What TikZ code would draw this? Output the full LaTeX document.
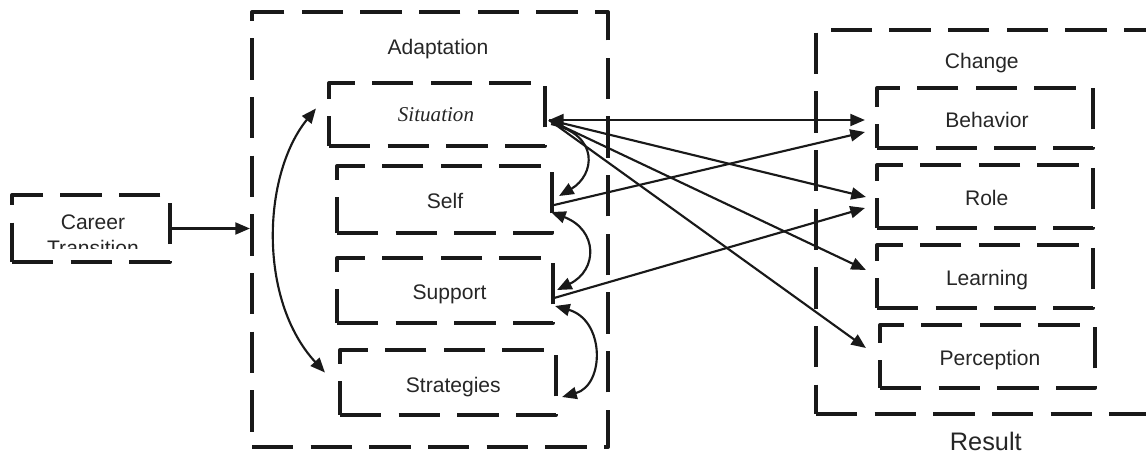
\documentclass[tikz,border=0pt]{standalone}
\usepackage{fontspec}
\setmainfont{Liberation Sans}
\newfontfamily\serifit{Liberation Serif}
\usetikzlibrary{arrows.meta,calc}
\begin{document}
\begin{tikzpicture}[x=0.75pt,y=-0.75pt,
  box/.style={draw=black!90, line width=3.1pt, dash pattern=on 31pt off 13pt, line join=round, inner sep=0pt},
  lbl/.style={font=\fontsize{15.8}{18}\selectfont, text=black!85, inner sep=0pt, anchor=base},
  conn/.style={line width=1.6pt, draw=black!90, -{Triangle[length=11pt,width=9pt]}},
  dbl/.style={line width=1.6pt, draw=black!90, {Triangle[length=11pt,width=9pt]}-{Triangle[length=11pt,width=9pt]}}]
\useasboundingbox (0,0) rectangle (1146,454);
% boxes
\node[box, minimum width=118.5pt, minimum height=50.25pt] (car) at (91,228.5) {};
\node[box, minimum width=267pt, minimum height=326.25pt] (adapt) at (430,229.5) {};
\node[box, minimum width=162pt, minimum height=47.25pt] (sit) at (437,114.5) {};
\node[box, minimum width=161.25pt, minimum height=50.25pt] (self) at (444.5,199.5) {};
\node[box, minimum width=162pt, minimum height=48.75pt] (sup) at (445,290.5) {};
\node[box, minimum width=162pt, minimum height=48.75pt] (strat) at (448,382.5) {};
\node[box, minimum width=273pt, minimum height=288pt] (chg) at (998,222) {};
\node[box, minimum width=162pt, minimum height=45pt] (beh) at (985,118) {};
\node[box, minimum width=162pt, minimum height=47.25pt] (role) at (985,196.5) {};
\node[box, minimum width=162pt, minimum height=47.25pt] (learn) at (985,276.5) {};
\node[box, minimum width=161.25pt, minimum height=47.25pt] (perc) at (987.5,356.5) {};
% labels
\begin{scope}
  \clip (car.north west) rectangle ($(car.east)+(0,20)$);
  \node[lbl] (tcar1) at (93,229) {Career};
  \node[lbl] (tcar2) at (93,255) {Transition};
\end{scope}
\node[lbl] (tadapt) at (438,54) {Adaptation};
\node[lbl, font=\serifit\itshape\fontsize{15.8}{18}\selectfont] (tsit) at (436,121) {Situation};
\node[lbl] (tself) at (445,208.3) {Self};
\node[lbl] (tsup) at (449.5,299) {Support};
\node[lbl] (tstrat) at (453.3,392) {Strategies};
\node[lbl] (tchg) at (981.8,68.3) {Change};
\node[lbl] (tbeh) at (987,127.3) {Behavior};
\node[lbl] (trole) at (986.7,205) {Role};
\node[lbl] (tlearn) at (987,285.7) {Learning};
\node[lbl] (tperc) at (990,365.7) {Perception};
\node[lbl, font=\fontsize{19}{22}\selectfont] (tres) at (985.8,450) {Result};
% connectors
\draw[conn] (car.east) -- (car.east -| adapt.west);
\coordinate (sitp) at ($(sit.east)+(2,5.5)$);
\coordinate (selfp) at ($(self.east)+(0,5.5)$);
\coordinate (supp) at ($(sup.east)+(-1,7.5)$);
\draw[dbl] (sitp) -- ($(beh.west)+(-10,2)$);
\draw[conn] (sitp) -- ($(role.west)+(-9,0.5)$);
\draw[conn] (sitp) -- ($(learn.west)+(-9,-6.5)$);
\draw[conn] (sitp) -- ($(perc.west)+(-12,-8.5)$);
\draw[conn] (selfp) -- ($(beh.west)+(-10,14)$);
\draw[conn] (supp) -- ($(role.west)+(-10,11.5)$);
% curved arrows
\coordinate (a1) at ($(sit.west)+(-11,-6)$);
\coordinate (a2) at ($(strat.west)+(-13,-10)$);
\draw[dbl] (a1) .. controls (262,175) and (258,300) .. (a2);
\coordinate (b1) at ($(sit.east)+(4,9.5)$);
\coordinate (b2) at ($(self.east)+(5,-3.5)$);
\draw[conn] (b1) .. controls (600,135) and (595,175) .. (b2);
\coordinate (c1) at ($(self.east)+(-3,12.5)$);
\coordinate (c2) at ($(sup.east)+(2,-0.5)$);
\draw[dbl] (c1) .. controls (598,230) and (598,270) .. (c2);
\coordinate (d1) at ($(sup.east)+(0,15.5)$);
\coordinate (d2) at ($(strat.east)+(4,14.5)$);
\draw[dbl] (d1) .. controls (605,320) and (605,385) .. (d2);
\end{tikzpicture}
\end{document}
